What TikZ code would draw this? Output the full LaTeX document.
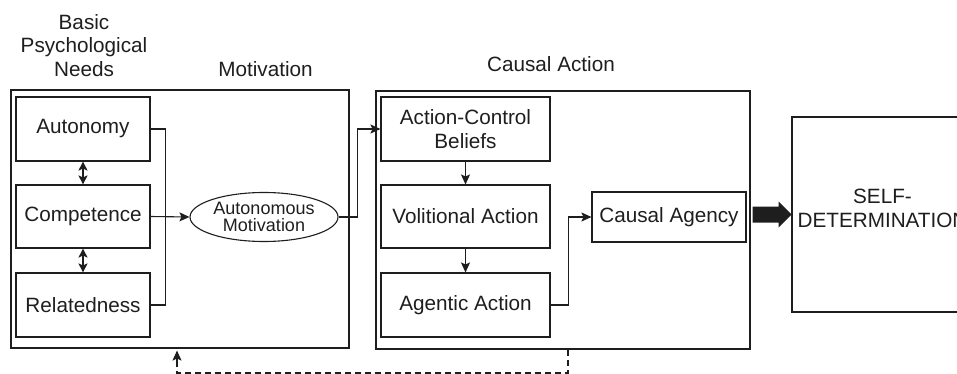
\documentclass[tikz,border=0pt]{standalone}
\usepackage{fontspec}
\setmainfont{Liberation Sans}
\usetikzlibrary{arrows.meta,calc,shapes.geometric}
\definecolor{ink}{RGB}{30,30,30}
\begin{document}
\begin{tikzpicture}[x=1pt,y=-1pt,
  every node/.style={text=ink},
  box/.style={draw=ink, line width=1.1pt, rectangle, inner sep=0pt, font=\fontsize{20.7}{24}\selectfont, align=center},
  frame/.style={draw=ink, line width=1.1pt, rectangle, inner sep=0pt},
  title/.style={font=\fontsize{20.7}{23.5}\selectfont, align=center, inner sep=0pt},
  conn/.style={draw=ink, line width=1.1pt},
  arr/.style={conn, -{Stealth[length=10pt,width=9pt,inset=2pt]}},
  darr/.style={conn, {Stealth[length=9pt,width=9pt,inset=2pt]}-{Stealth[length=9pt,width=9pt,inset=2pt]}},
  dashline/.style={conn, dash pattern=on 6pt off 4pt}
]
\useasboundingbox (0,0) rectangle (957,374);
\clip (0,0) rectangle (957,374);

% titles
\node[title] (tneeds) at (84,45.5) {Basic\\Psychological\\Needs};
\node[title, anchor=base] (tmot) at (265.5,77) {Motivation};
\node[title, anchor=base] (tca) at (551,72) {Causal Action};

% frames
\node[frame, minimum width=338pt, minimum height=258pt] (outerL) at (180,219) {};
\node[frame, minimum width=374pt, minimum height=258pt] (outerR) at (563,220) {};
\node[frame, minimum width=178pt, minimum height=195pt] (sd) at (881,214.5) {};
\node[font=\fontsize{20.7}{24}\selectfont, align=center, inner sep=0pt] (sdtext) at (882.5,208) {SELF-\\DETERMINATION};

% left boxes
\node[box, minimum width=134pt, minimum height=64pt] (aut) at (83,129) {Autonomy};
\node[box, minimum width=134pt, minimum height=63pt] (comp) at (83,216.5) {Competence};
\node[box, minimum width=134pt, minimum height=64pt] (rel) at (83,305) {Relatedness};

\node[draw=ink, line width=1.1pt, ellipse, minimum width=148pt, minimum height=49pt, inner sep=0pt,
      font=\fontsize{18}{16.5}\selectfont, align=center] (ell) at (264,217) {Autonomous\\Motivation};

% right boxes
\node[box, minimum width=169pt, minimum height=64pt] (acb) at (465.5,129) {Action-Control\\Beliefs};
\node[box, minimum width=169pt, minimum height=63pt] (vol) at (465.5,216.5) {Volitional Action};
\node[box, minimum width=169pt, minimum height=64pt] (agen) at (465.5,305) {Agentic Action};
\node[box, minimum width=154pt, minimum height=50pt] (ca) at (669,217) {Causal Agency};

% connectors
\draw[conn] (aut.east) -- ++(15,0) |- (rel.east);
\draw[arr] (comp.east) -- (ell.west);
\draw[darr] (aut) -- (comp);
\draw[darr] (comp) -- (rel);
\draw[arr] (ell.east) -- ++(19,0) |- (acb.west);
\draw[arr] (acb) -- (vol);
\draw[arr] (vol) -- (agen);
\draw[arr] (agen.east) -- ++(18,0) |- (ca.west);

% dashed feedback
\coordinate (d1) at (568,373);
\coordinate (d2) at (177,373);
\draw[dashline] (outerR.south -| d1) -- (d1) -- (d2) -- ($(outerL.south -| d2)+(0,12)$);
\draw[arr, shorten >=2pt] ($(outerL.south -| d2)+(0,12)$) -- (outerL.south -| d2);

% big arrow
\coordinate (B) at ($(outerR.east |- sd.west)+(2,0)$);
\fill[ink, shift={(B)}] (0,-8) -- (26,-8) -- (26,-13) -- (39,0) -- (26,13) -- (26,8) -- (0,8) -- cycle;
\end{tikzpicture}
\end{document}
